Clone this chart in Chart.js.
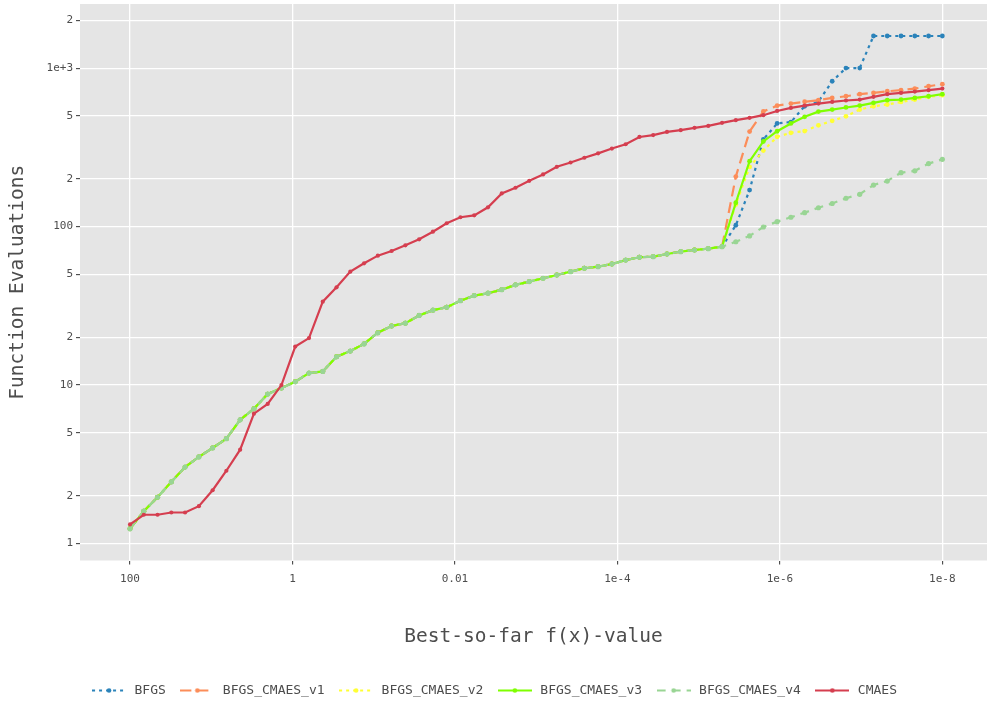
<!DOCTYPE html>
<html>
<head>
<meta charset="UTF-8">
<title>Function Evaluations</title>
<script src="https://cdn.jsdelivr.net/npm/chart.js@4.4.1/dist/chart.umd.min.js"></script>
<style>
  body { margin: 0; background: #fff; }
</style>
</head>
<body>
<canvas id="mychart" width="987" height="704"></canvas>
<script>
// best-so-far f(x) targets (x axis)
const targets = [100, 67.70, 45.82, 31.01, 20.99, 14.21, 9.617, 6.510, 4.406, 2.982,
  2.019, 1.367, 0.9249, 0.6261, 0.4238, 0.2868, 0.1942, 0.1314, 0.08895, 0.06021,
  0.04075, 0.02759, 0.01867, 0.01264, 0.008555, 0.005790, 0.003920, 0.002653, 0.001796, 0.001216,
  8.227e-4, 5.569e-4, 3.769e-4, 2.551e-4, 1.727e-4, 1.169e-4, 7.912e-5, 5.356e-5, 3.625e-5, 2.454e-5,
  1.661e-5, 1.124e-5, 7.610e-6, 5.151e-6, 3.486e-6, 2.360e-6, 1.597e-6, 1.081e-6, 7.318e-7, 4.954e-7,
  3.353e-7, 2.270e-7, 1.536e-7, 1.040e-7, 7.038e-8, 4.764e-8, 3.225e-8, 2.183e-8, 1.477e-8, 1e-8];

// the BFGS runs all share the same path until ~5e-6
const bfgsHead = [1.24, 1.60, 1.96, 2.45, 3.04, 3.52, 4.01, 4.59, 6.04, 7.09, 8.78,
  9.58, 10.5, 11.9, 12.2, 15.1, 16.4, 18.2, 21.4, 23.6, 24.6, 27.5, 29.7, 31.0, 34.1,
  36.7, 38.0, 40.0, 42.9, 45.0, 47.2, 49.5, 52.0, 54.6, 55.9, 58.1, 61.5, 64.1, 64.6,
  67.2, 69.5, 71.2, 72.6, 74.7];
const bfgsTail = [102, 170, 355, 448, 457, 575, 615, 827, 1002, 1002, 1596, 1596, 1596, 1596, 1596, 1596];
const v1Tail = [207, 398, 533, 580, 598, 614, 628, 649, 665, 685, 698, 715, 726, 743, 769, 792];
const v2Tail = [138, 238, 302, 369, 391, 401, 436, 465, 497, 548, 575, 590, 612, 634, 659, 675];
const v3Tail = [141.5, 259, 345, 400, 448, 493, 532, 548, 565, 581, 604, 628, 634, 649, 665, 685];
const v4Tail = [80.3, 87.4, 99.5, 107.5, 114.6, 122.5, 131.6, 140, 151, 160, 183, 194, 219, 225, 250, 266];
const cmaes = [1.32, 1.52, 1.52, 1.57, 1.57, 1.72, 2.17, 2.88, 3.91, 6.6, 7.6,
  10.0, 17.5, 19.8, 33.6, 41.4, 52, 58.7, 65.6, 70.2, 76.2, 83.2, 92.9, 105, 114.6,
  117.8, 132.4, 162, 176, 194.5, 213.6, 238.5, 254, 272, 290, 311, 331, 368, 378,
  396, 406, 420, 432, 452, 470, 486, 505, 537, 561, 581, 598, 612, 625, 634, 659,
  685, 698, 712, 726, 743];

const xTicks = [100, 1, 0.01, 1e-4, 1e-6, 1e-8];
const xTickLabels = ['100', '1', '0.01', '1e-4', '1e-6', '1e-8'];
const yTicks = [1, 2, 5, 10, 20, 50, 100, 200, 500, 1000, 2000];
const yTickLabels = ['1', '2', '5', '10', '2', '5', '100', '2', '5', '1e+3', '2'];

const txtColor = '#4d4d4d';
const monoFont = "'DejaVu Sans Mono', 'Liberation Mono', monospace";

const series = [
  { label: 'BFGS', values: bfgsHead.concat(bfgsTail), color: '#2b83ba', dash: [3, 4], r: 2.4 },
  { label: 'BFGS_CMAES_v1', values: bfgsHead.concat(v1Tail), color: '#fc8d59', dash: [11, 6], r: 2.4 },
  { label: 'BFGS_CMAES_v2', values: bfgsHead.concat(v2Tail), color: '#ffff33', dash: [3, 4], r: 2.4 },
  { label: 'BFGS_CMAES_v3', values: bfgsHead.concat(v3Tail), color: '#7fff00', dash: [], r: 2.4 },
  { label: 'BFGS_CMAES_v4', values: bfgsHead.concat(v4Tail), color: '#99d594', dash: [9, 6], r: 2.6 },
  { label: 'CMAES', values: cmaes, color: '#d53e4f', dash: [], r: 2.1 }
];

// little line+dot icons for the legend
function legendIcon(s) {
  const c = document.createElement('canvas');
  c.width = 34; c.height = 13;
  const g = c.getContext('2d');
  g.strokeStyle = s.color;
  g.lineWidth = 2.2;
  g.setLineDash(s.dash);
  g.beginPath(); g.moveTo(0, 6.5); g.lineTo(34, 6.5); g.stroke();
  g.fillStyle = s.color;
  g.beginPath(); g.arc(17, 6.5, 2.3, 0, Math.PI * 2); g.fill();
  return c;
}
const icons = series.map(legendIcon);

const panelBg = {
  id: 'panelBg',
  beforeDraw(chart) {
    const a = chart.chartArea, ctx = chart.ctx;
    ctx.save();
    ctx.fillStyle = '#e5e5e5';
    ctx.fillRect(a.left, a.top, a.right - a.left, a.bottom - a.top);
    ctx.restore();
  }
};

function noPad(s) {
  s.paddingTop = 0; s.paddingBottom = 0; s.paddingLeft = 0; s.paddingRight = 0;
}

const ctx = document.getElementById('mychart');
const mychart = new Chart(ctx, {
  type: 'line',
  data: {
    datasets: series.map((s, i) => ({
      label: s.label,
      data: targets.map((t, k) => ({ x: t, y: s.values[k] })),
      borderColor: s.color,
      backgroundColor: s.color,
      borderWidth: 2.2,
      borderDash: s.dash,
      pointRadius: s.r,
      pointBorderWidth: 0,
      pointBackgroundColor: s.color,
      tension: 0,
      order: series.length - 1 - i
    }))
  },
  options: {
    responsive: false,
    devicePixelRatio: 1,
    animation: false,
    layout: { autoPadding: false, padding: { top: 4, right: 0, bottom: -3, left: 0 } },
    plugins: {
      tooltip: { enabled: false },
      legend: {
        position: 'bottom',
        labels: {
          usePointStyle: true,
          pointStyleWidth: 38,
          padding: 12.5,
          color: txtColor,
          font: { family: monoFont, size: 13 },
          generateLabels(chart) {
            return chart.data.datasets.map((d, i) => ({
              text: d.label,
              datasetIndex: i,
              pointStyle: icons[i],
              fontColor: txtColor,
              strokeStyle: d.borderColor,
              fillStyle: d.borderColor,
              lineWidth: 0,
              hidden: false
            }));
          }
        }
      }
    },
    scales: {
      x: {
        type: 'logarithmic',
        reverse: true,
        min: 2.82e-9,
        max: 412.7,
        bounds: 'data',
        afterBuildTicks: s => { s.ticks = xTicks.map(v => ({ value: v })); },
        afterFit: s => { s.height = 111; noPad(s); },
        ticks: {
          autoSkip: false, maxRotation: 0, padding: 8,
          color: txtColor, font: { family: monoFont, size: 11 },
          callback: (v, i) => xTickLabels[i]
        },
        grid: { color: '#ffffff', lineWidth: 1.3, tickColor: '#333333', tickLength: 4, tickWidth: 1 },
        border: { display: false },
        title: {
          display: true, text: 'Best-so-far f(x)-value', color: txtColor,
          font: { family: monoFont, size: 19.5 }, padding: { top: 0, bottom: 23 }
        }
      },
      y: {
        type: 'logarithmic',
        min: 0.7816,
        max: 2541,
        bounds: 'data',
        afterBuildTicks: s => { s.ticks = yTicks.map(v => ({ value: v })); },
        afterFit: s => { s.width = 80; noPad(s); },
        ticks: {
          autoSkip: false, padding: 3,
          color: txtColor, font: { family: monoFont, size: 11 },
          callback: (v, i) => yTickLabels[i]
        },
        grid: { color: '#ffffff', lineWidth: 1.3, tickColor: '#333333', tickLength: 4, tickWidth: 1 },
        border: { display: false },
        title: {
          display: true, text: 'Function Evaluations', color: txtColor,
          font: { family: monoFont, size: 19.5 }, padding: { top: 6.5, bottom: 0 }
        }
      }
    }
  },
  plugins: [panelBg]
});
</script>
</body>
</html>
